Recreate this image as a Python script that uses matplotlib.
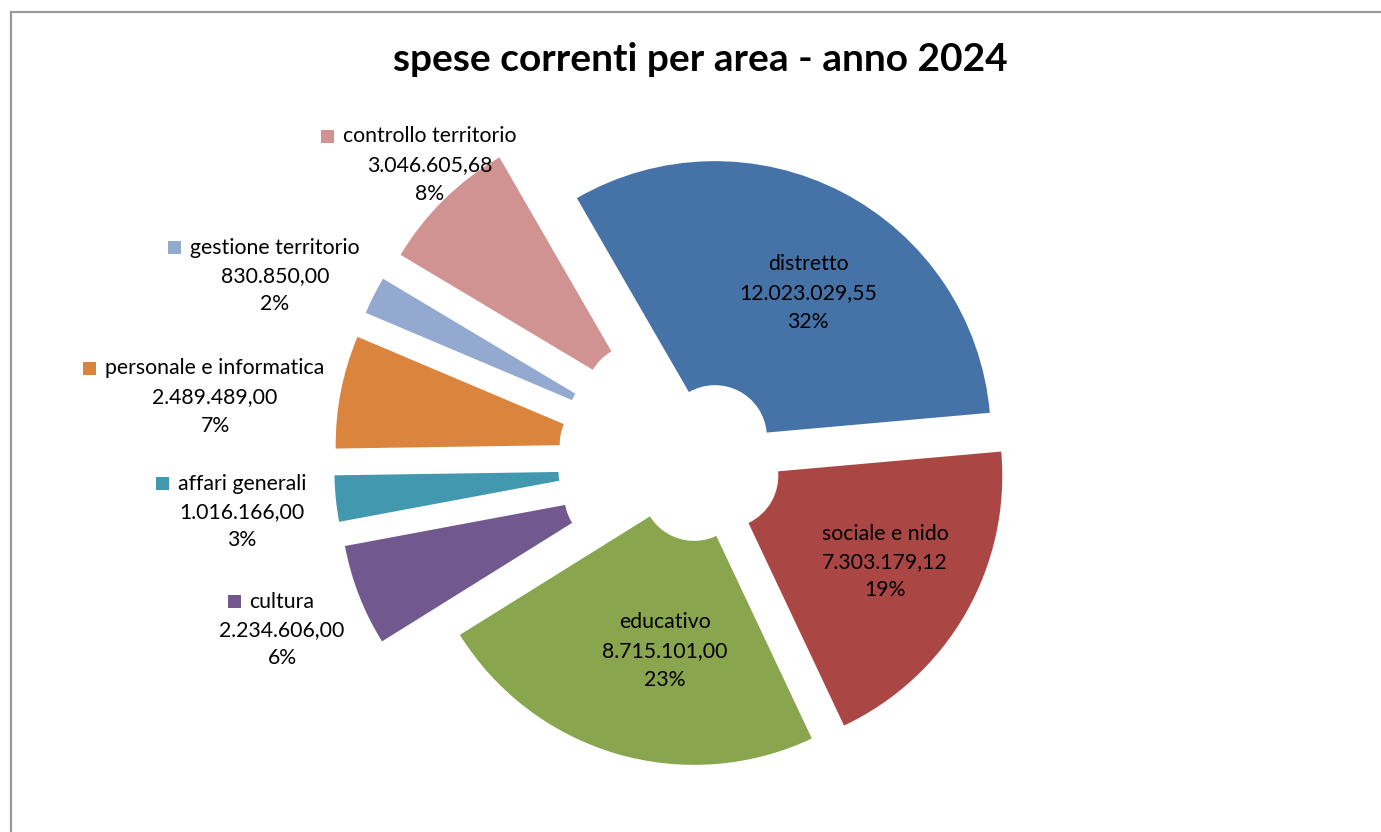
import matplotlib
matplotlib.use("Agg")
import matplotlib.pyplot as plt
from matplotlib.lines import Line2D
from matplotlib.patches import Rectangle

# ---------------- data ----------------
categories = ["distretto", "sociale e nido", "educativo", "cultura",
              "affari generali", "personale e informatica",
              "gestione territorio", "controllo territorio"]
values = [12023029.55, 7303179.12, 8715101.00, 2234606.00,
          1016166.00, 2489489.00, 830850.00, 3046605.68]
colors = ["#4572A7", "#AA4643", "#89A54E", "#71588F",
          "#4198AF", "#DB843D", "#93A9CF", "#D19392"]
title = "spese correnti per area - anno 2024"

# ---------------- layout (pixels) ----------------
W, H = 1381, 832
CX, CY, R = 702, 462, 276          # pie centre and outer radius in pixels
hole_px = 52
explode_px = [28, 28, 28, 92, 92, 92, 92, 92]
inside = [True, True, True, False, False, False, False, False]
label_pos = [(808, 293), (885, 562), (665, 651), (282, 630),
             (242, 512), (215, 397), (275, 276), (430, 165)]
line_gap = 28.5
FONT = "Lato"

def P(x, y):
    """image pixel -> data coordinates (units of pie radius)"""
    return (x - CX) / R, (CY - y) / R

def fmt_it(v):
    s = f"{v:,.2f}"
    return s.replace(",", "X").replace(".", ",").replace("X", ".")

total = sum(values)

fig = plt.figure(figsize=(W / 100, H / 100), dpi=100)
ax = fig.add_axes([0, 0, 1, 1])
ax.pie(values, colors=colors, startangle=120, counterclock=False,
       radius=1.0, explode=[e / R for e in explode_px],
       wedgeprops=dict(width=(R - hole_px) / R, linewidth=0))
ax.set_xlim(-CX / R, (W - CX) / R)
ax.set_ylim((CY - H) / R, CY / R)
ax.set_aspect("equal", adjustable="datalim")
ax.axis("off")

# chart border (top and left visible)
fig.add_artist(Line2D([11 / W, 1.0], [1 - 12 / H, 1 - 12 / H],
                      transform=fig.transFigure, color="#9a9a9a", lw=1.6))
fig.add_artist(Line2D([11 / W, 11 / W], [0.0, 1 - 12 / H],
                      transform=fig.transFigure, color="#9a9a9a", lw=1.6))

# title
tx, ty = P(700, 71)
ax.text(tx, ty, title, ha="center", va="baseline", fontsize=28,
        fontweight="bold", family=FONT, color="black")

fs = 15.3
name_texts = []
for i, (cat, v) in enumerate(zip(categories, values)):
    x, y = label_pos[i]
    pct = f"{round(v / total * 100):d}%"
    lines = [cat, fmt_it(v), pct]
    objs = []
    for k, s in enumerate(lines):
        px, py = P(x, y + (k - 1) * line_gap)
        t = ax.text(px, py, s, ha="center", va="center", fontsize=fs,
                    family=FONT, color="black")
        objs.append(t)
    name_texts.append(objs[0])

# legend keys for outside labels
fig.canvas.draw()
renderer = fig.canvas.get_renderer()
key = 13
for i, t in enumerate(name_texts):
    if inside[i]:
        continue
    bb = t.get_window_extent(renderer)
    x1 = bb.x0 - 9            # display px (origin bottom-left)
    yc = (bb.y0 + bb.y1) / 2
    rect = Rectangle(((x1 - key) / W, (yc - key / 2) / H), key / W, key / H,
                     transform=fig.transFigure, facecolor=colors[i],
                     edgecolor="none")
    fig.add_artist(rect)

fig.savefig("out.png", dpi=100, facecolor="white")
